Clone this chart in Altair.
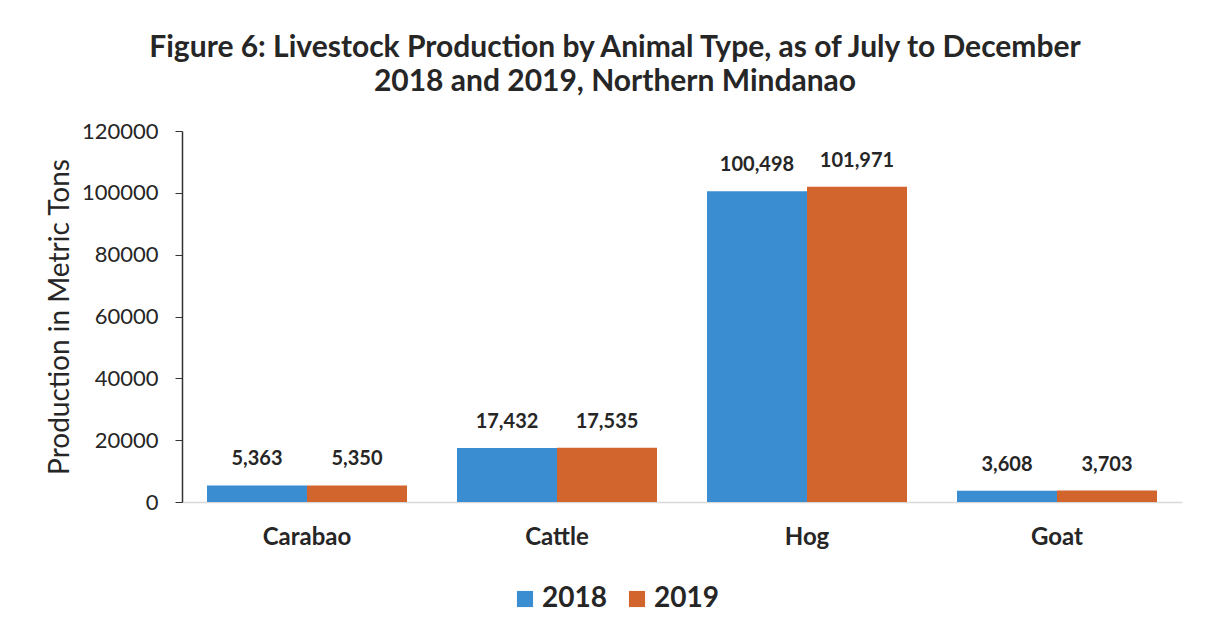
import altair as alt
import pandas as pd

categories = ["Carabao", "Cattle", "Hog", "Goat"]
years = ["2018", "2019"]
values_2018 = [5363, 17432, 100498, 3608]
values_2019 = [5350, 17535, 101971, 3703]
y_ticks = [0, 20000, 40000, 60000, 80000, 100000, 120000]
title_lines = [
    "Figure 6: Livestock Production by Animal Type, as of July to December",
    "2018 and 2019, Northern Mindanao",
]
colors = ["#3a8dd0", "#d2642e"]

rows = []
for c, a, b in zip(categories, values_2018, values_2019):
    rows.append({"Animal": c, "Year": "2018", "Value": a})
    rows.append({"Animal": c, "Year": "2019", "Value": b})
df = pd.DataFrame(rows)

FONT = "Lato"
TXT = "#262626"

base = alt.Chart(df).encode(
    x=alt.X(
        "Animal:N",
        sort=categories,
        scale=alt.Scale(paddingInner=0.2, paddingOuter=0.1),
        axis=alt.Axis(
            title=None,
            labelAngle=0,
            labelFont=FONT,
            labelFontWeight="bold",
            labelFontSize=24,
            labelColor=TXT,
            labelPadding=23,
            ticks=False,
            domainColor="#d9d9d9",
            domainWidth=1.5,
        ),
    ),
    xOffset=alt.XOffset("Year:N", sort=years, scale=alt.Scale(paddingInner=0, paddingOuter=0)),
    y=alt.Y(
        "Value:Q",
        scale=alt.Scale(domain=[0, 120000], nice=False),
        axis=alt.Axis(
            title="Production in Metric Tons",
            titleFont=FONT,
            titleFontWeight="normal",
            titleFontSize=28,
            titleColor=TXT,
            titlePadding=7,
            values=y_ticks,
            format="d",
            labelFont=FONT,
            labelFontSize=22,
            labelColor=TXT,
            labelPadding=17,
            tickSize=7,
            tickColor="#333333",
            domainColor="#333333",
            domainWidth=1.5,
            grid=False,
        ),
    ),
)

bars = base.mark_bar().encode(
    color=alt.Color(
        "Year:N",
        sort=years,
        scale=alt.Scale(domain=years, range=colors),
        legend=alt.Legend(
            title=None,
            orient="none",
            direction="horizontal",
            legendX=329,
            legendY=454,
            symbolType="square",
            symbolSize=260,
            symbolStrokeWidth=0,
            labelFont=FONT,
            labelFontSize=28,
            labelFontWeight="bold",
            labelColor=TXT,
            labelOffset=3,
            columnPadding=16,
        ),
    )
)

labels = base.mark_text(
    baseline="bottom",
    dy=-16,
    font=FONT,
    fontWeight="bold",
    fontSize=20,
    color=TXT,
).encode(text=alt.Text("Value:Q", format=","))

chart = (
    alt.layer(bars, labels)
    .properties(
        width=1000,
        height=371,
        autosize=alt.AutoSizeParams(type="none"),
        padding={"left": 174, "top": 123, "right": 20, "bottom": 130},
        background="white",
        title=alt.TitleParams(
            text=title_lines,
            font=FONT,
            fontSize=30,
            fontWeight="bold",
            color=TXT,
            anchor="middle",
            frame="group",
            dx=-67,
            offset=23,
            lineHeight=34,
        ),
    )
    .configure_view(stroke=None)
)

chart.save("out.html", embed_options={"renderer": "svg", "actions": False})
